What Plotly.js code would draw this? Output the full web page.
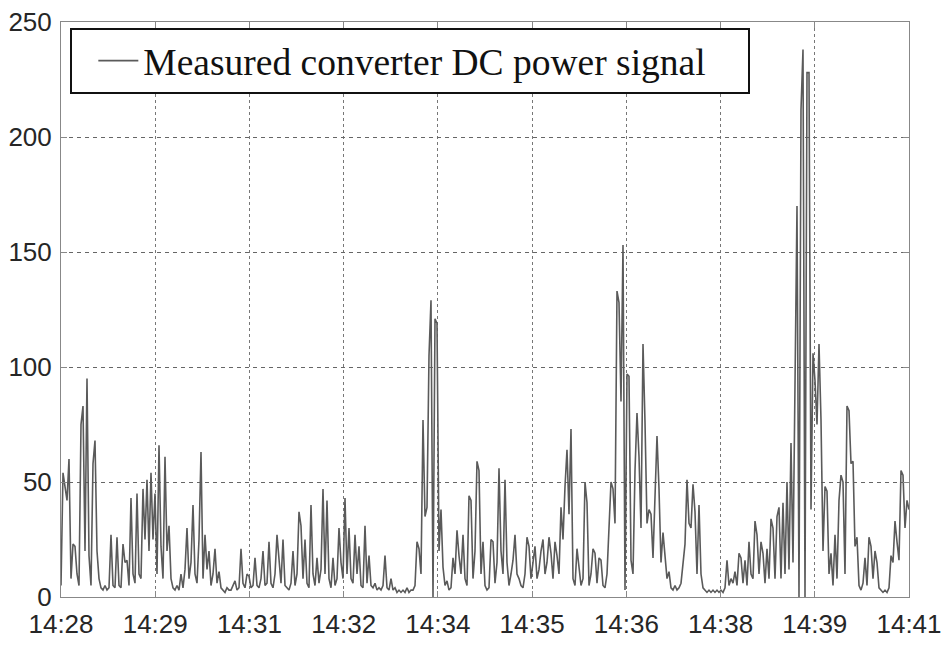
<!DOCTYPE html>
<html>
<head>
<meta charset="utf-8">
<script src="https://cdn.plot.ly/plotly-3.0.1.min.js"></script>
<style>html,body{margin:0;padding:0;background:#fff;}#chart{width:945px;height:645px;}</style>
</head>
<body>
<div id="chart"></div>
<script>
// Time axis: minutes after 14:28, one sample every 13/424 minute
const startLabel = '14:28';
const spanMinutes = 13;
const tickLabels = ['14:28','14:29','14:31','14:32','14:34','14:35','14:36','14:38','14:39','14:41'];
const yTicks = [0, 50, 100, 150, 200, 250];
const seriesName = 'Measured converter DC power signal';

// Measured converter DC power, segment 14:28 - 14:30
const powerA = [
  5,54,48,42,60,8,23,22,10,5,
  75,83,20,95,18,5,58,68,20,8,
  4,3,5,3,4,27,5,4,26,5,
  4,23,15,16,5,43,10,6,45,10,
  8,47,25,51,20,54,25,45,10,66,
  22,8,61,20,31,8,4,3,5,3,
  10,4,12,30,8,15,40,10,6,25,
  63,8,27,12,20,5,10,21,6,11,
  4,3,2,4,3
];
// segment 14:31 - 14:33
const powerB = [
  3,5,7,3,4,21,6,4,10,9,
  4,5,17,5,4,8,20,5,6,24,
  6,4,10,27,15,6,25,5,4,3,
  6,20,5,10,37,31,8,25,6,4,
  40,10,5,17,6,12,47,10,42,8,
  4,17,5,8,30,15,8,43,10,30,
  8,6,27,10,22,5,4,31,6,18,
  5,4,6,3,4,3,5,18,4,3,
  8,3,4,2,3
];
// segment 14:33 - 14:36
const powerC = [
  2,3,2,4,2,3,3,5,24,21,
  10,77,35,39,105,129,0,121,119,20,
  38,13,5,7,3,4,17,10,29,18,
  10,27,8,5,44,42,8,20,59,55,
  10,24,5,3,4,25,24,6,15,56,
  20,10,51,15,5,10,16,27,10,8,
  5,4,10,26,22,8,15,22,8,12,
  20,25,10,15,26,19,8,24,18,10,
  39,25,48,64,36
];
// segment 14:36 - 14:38
const powerD = [
  73,8,5,21,14,5,8,50,41,5,
  10,21,19,6,17,16,5,4,10,32,
  50,47,32,133,128,85,153,3,97,96,
  16,10,55,80,61,30,110,76,32,38,
  36,17,41,70,47,15,28,17,8,11,
  4,3,5,3,4,6,15,23,51,32,
  30,49,37,10,40,10,4,3,2,3,
  2,3,2,3,2,3,2,4,16,5,
  8,6,11,5,19
];
// segment 14:38 - 14:41
const powerE = [
  17,6,16,5,24,10,8,33,27,10,
  24,19,6,21,8,34,30,8,35,39,
  8,41,10,50,12,67,15,104,170,0,
  212,238,0,228,228,38,106,94,75,110,
  77,20,48,46,10,19,5,27,8,42,
  53,50,10,83,81,58,59,22,26,5,
  3,6,17,5,26,22,8,20,15,4,
  3,2,3,2,4,18,15,33,24,16,
  55,53,30,42,38
];

const power = [].concat(powerA, powerB, powerC, powerD, powerE);
const step = spanMinutes / (power.length - 1);
const minutes = power.map((_, i) => i * step);
const tickVals = tickLabels.map((_, k) => k * spanMinutes / (tickLabels.length - 1));

const tickFont = {family: 'Liberation Sans, Arial, Helvetica, sans-serif', size: 26, color: '#262626'};

const trace = {
  x: minutes,
  y: power,
  type: 'scatter',
  mode: 'lines',
  name: seriesName,
  line: {color: '#5a5a5a', width: 1.6},
  showlegend: true
};

const layout = {
  width: 945,
  height: 645,
  margin: {l: 61, r: 36, t: 22, b: 48},
  paper_bgcolor: '#fff',
  plot_bgcolor: '#fff',
  showlegend: true,
  legend: {
    x: 0.011, y: 0.99, xanchor: 'left', yanchor: 'top',
    orientation: 'h', entrywidth: 600, entrywidthmode: 'pixels',
    indentation: 21,
    bgcolor: '#fff', bordercolor: '#111', borderwidth: 2,
    font: {family: 'Liberation Serif, Times New Roman, serif', size: 37.5, color: '#111'},
    itemwidth: 40
  },
  xaxis: {
    range: [0, spanMinutes],
    tickmode: 'array', tickvals: tickVals, ticktext: tickLabels,
    showgrid: true, gridcolor: '#777', griddash: 'dot', gridwidth: 1,
    zeroline: false,
    showline: true, mirror: 'ticks', linecolor: '#888', linewidth: 1,
    ticks: 'inside', ticklen: 6, tickcolor: '#888',
    tickfont: tickFont, ticklabelstandoff: 4
  },
  yaxis: {
    range: [0, 250],
    tickmode: 'array', tickvals: yTicks,
    showgrid: true, gridcolor: '#666', griddash: '4px,4px', gridwidth: 1,
    zeroline: false,
    showline: true, mirror: 'ticks', linecolor: '#888', linewidth: 1,
    ticks: 'inside', ticklen: 6, tickcolor: '#888',
    tickfont: tickFont, ticklabelstandoff: 3
  }
};

Plotly.newPlot('chart', [trace], layout, {staticPlot: true, displayModeBar: false});
</script>
</body>
</html>
